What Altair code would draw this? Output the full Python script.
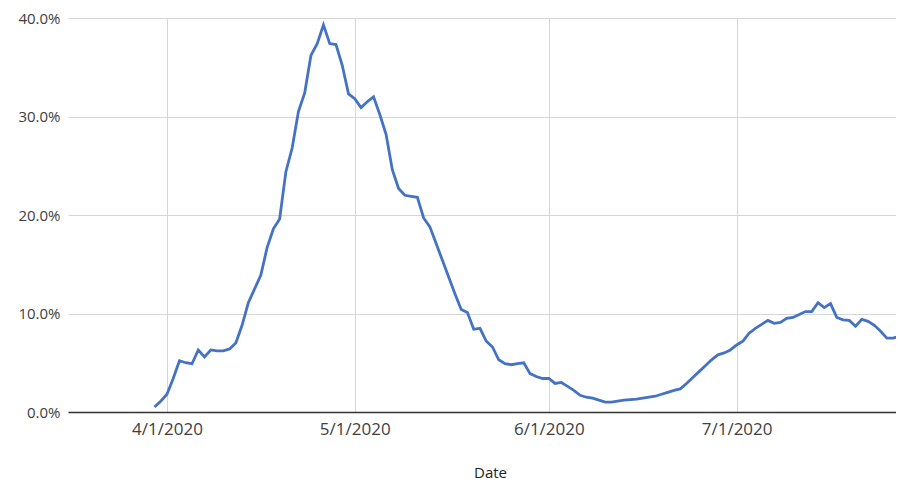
import altair as alt
import pandas as pd

start_date = "2020-03-30"
# daily percentage values (%)
values = [
    0.5, 1.1, 1.8, 3.4, 5.2, 5.0, 4.9, 6.3, 5.6, 6.3, 6.2, 6.2, 6.4, 7.0, 8.8,
    11.1, 12.5, 13.9, 16.7, 18.6, 19.6, 24.4, 26.8, 30.5, 32.4, 36.2, 37.4, 39.3,
    37.4, 37.3, 35.2, 32.3, 31.8, 30.9, 31.5, 32.0, 30.2, 28.2, 24.6, 22.7, 22.0,
    21.9, 21.8, 19.7, 18.8, 17.1, 15.4, 13.7, 12.0, 10.4, 10.1, 8.4, 8.5, 7.2,
    6.6, 5.3, 4.9, 4.8, 4.9, 5.0, 3.9, 3.6, 3.4, 3.4, 2.9, 3.0, 2.6, 2.2, 1.7,
    1.5, 1.4, 1.2, 1.0, 1.0, 1.1, 1.2, 1.25, 1.3, 1.4, 1.5, 1.6, 1.8, 2.0, 2.2,
    2.35, 2.9, 3.5, 4.1, 4.7, 5.3, 5.8, 6.0, 6.3, 6.8, 7.2, 8.0, 8.5, 8.9, 9.3,
    9.0, 9.1, 9.5, 9.6, 9.9, 10.2, 10.2, 11.1, 10.6, 11.0, 9.6, 9.35, 9.3, 8.7,
    9.4, 9.2, 8.8, 8.2, 7.5, 7.5, 7.7, 7.1,
]
tick_dates = [(2020, 4, 1), (2020, 5, 1), (2020, 6, 1), (2020, 7, 1)]
y_ticks = [0, 0.1, 0.2, 0.3, 0.4]

df = pd.DataFrame({
    "Date": pd.date_range(start_date, periods=len(values)).strftime("%Y-%m-%d"),
    "rate": [v / 100 for v in values],
})

FONT = "Open Sans"

x_domain = [
    alt.DateTime(year=2020, month=3, date=16, hours=4, minutes=36, utc=True),
    alt.DateTime(year=2020, month=7, date=26, hours=11, utc=True),
]

chart = alt.Chart(df).mark_line(
    color="#4472c4", strokeWidth=2.8, clip=True
).encode(
    x=alt.X(
        "Date:T",
        title="Date",
        scale=alt.Scale(type="utc", domain=x_domain),
        axis=alt.Axis(
            values=[alt.DateTime(year=y, month=m, date=d, utc=True) for (y, m, d) in tick_dates],
            format="%-m/%-d/%Y",
            grid=True,
            gridColor="#d6d6d6",
            gridWidth=1,
            ticks=False,
            domainColor="#333333",
            domainWidth=1.5,
            labelFont=FONT,
            labelFontSize=17,
            labelColor="#404040",
            labelPadding=9,
            titleFont=FONT,
            titleFontSize=15,
            titleFontWeight="normal",
            titleColor="#222222",
            titleX=422,
            titleY=53,
            titleAlign="center",
            titleBaseline="top",
        ),
    ),
    y=alt.Y(
        "rate:Q",
        title=None,
        scale=alt.Scale(domain=[0, 0.4]),
        axis=alt.Axis(
            values=y_ticks,
            format=".1%",
            grid=True,
            gridColor="#d6d6d6",
            gridWidth=1,
            domain=False,
            ticks=False,
            labelFont=FONT,
            labelFontSize=15,
            labelColor="#404040",
            labelPadding=8,
        ),
    ),
).properties(
    width=828,
    height=394,
    autosize=alt.AutoSizeParams(type="none"),
    padding={"left": 60, "top": 10, "right": 0, "bottom": 69},
).configure_view(stroke=None)

chart.save("out.html", embed_options={"renderer": "svg", "actions": False})
